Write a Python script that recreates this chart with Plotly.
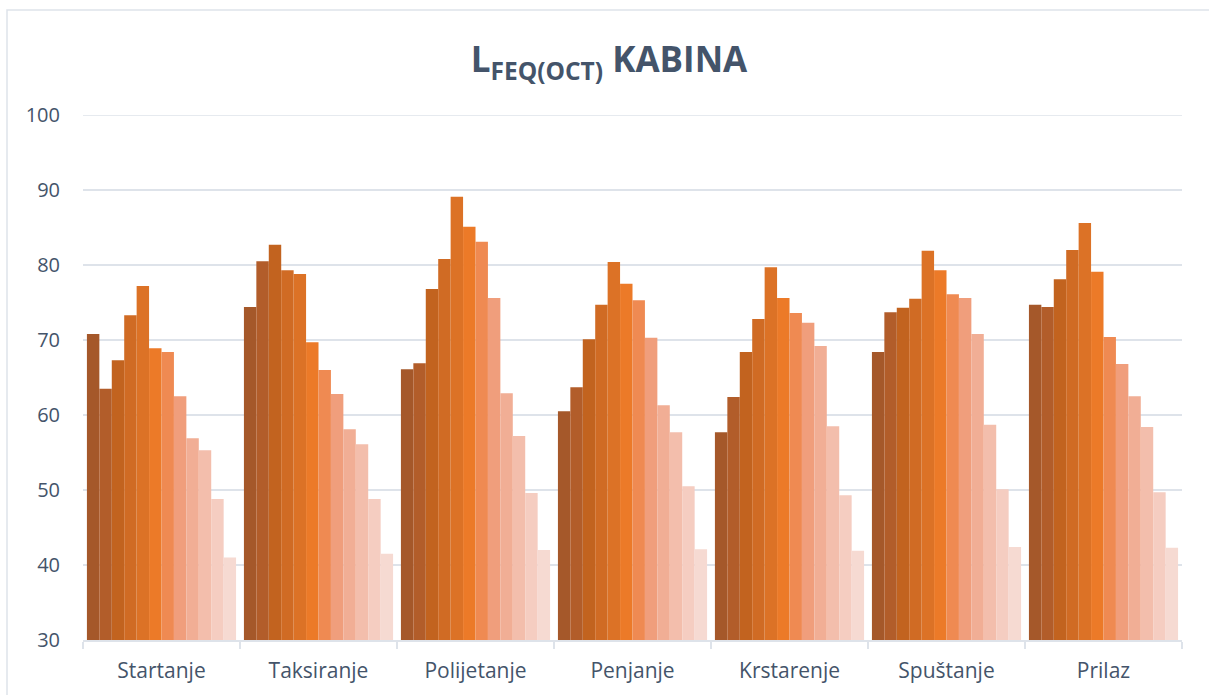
import plotly.graph_objects as go

categories = ["Startanje", "Taksiranje", "Polijetanje", "Penjanje", "Krstarenje", "Spuštanje", "Prilaz"]

# 12 octave-band series (one value per category)
band_01 = [70.8, 74.4, 66.1, 60.5, 57.7, 68.4, 74.7]
band_02 = [63.5, 80.5, 66.9, 63.7, 62.4, 73.7, 74.4]
band_03 = [67.3, 82.7, 76.8, 70.1, 68.4, 74.3, 78.1]
band_04 = [73.3, 79.3, 80.8, 74.7, 72.8, 75.5, 82.0]
band_05 = [77.2, 78.8, 89.1, 80.4, 79.7, 81.9, 85.6]
band_06 = [68.9, 69.7, 85.1, 77.5, 75.6, 79.3, 79.1]
band_07 = [68.4, 66.0, 83.1, 75.3, 73.6, 76.1, 70.4]
band_08 = [62.5, 62.8, 75.6, 70.3, 72.3, 75.6, 66.8]
band_09 = [56.9, 58.1, 62.9, 61.3, 69.2, 70.8, 62.5]
band_10 = [55.3, 56.1, 57.2, 57.7, 58.5, 58.7, 58.4]
band_11 = [48.8, 48.8, 49.6, 50.5, 49.3, 50.1, 49.7]
band_12 = [41.0, 41.5, 42.0, 42.1, 41.9, 42.4, 42.3]

y_ticks = [30, 40, 50, 60, 70, 80, 90, 100]

series = [band_01, band_02, band_03, band_04, band_05, band_06,
          band_07, band_08, band_09, band_10, band_11, band_12]
colors = ["#A5582A", "#B25D2A", "#C2631F", "#D06B24", "#DC7226", "#EC7A28",
          "#EF8A52", "#F09E7C", "#F1AE95", "#F3BEAC", "#F5CDC1", "#F6DAD2"]

fig = go.Figure()
for i, (vals, col) in enumerate(zip(series, colors)):
    fig.add_trace(go.Bar(x=categories, y=vals, name=f"{i+1}",
                         marker=dict(color=col, line=dict(width=0))))

font_col = "#44546A"
grid_col = "#DEE3EA"
fig.update_layout(
    width=1209, height=695,
    barmode="group", bargap=0.05, bargroupgap=0,
    showlegend=False,
    plot_bgcolor="white", paper_bgcolor="white",
    margin=dict(l=83, r=27, t=115, b=55),
    font=dict(family="Open Sans", color=font_col),
    title=dict(text="<b>L<sub>FEQ(OCT)</sub> KABINA</b>",
               x=609 / 1209, xanchor="center", xref="container",
               y=1 - 60 / 695, yref="container", yanchor="middle",
               font=dict(size=35, color=font_col, family="Open Sans")),
    yaxis=dict(range=[y_ticks[0], y_ticks[-1]], tickvals=y_ticks,
               showgrid=True, gridcolor=grid_col,
               gridwidth=1.5, zeroline=False, showline=False,
               tickfont=dict(size=20, color=font_col), ticklabelstandoff=22),
    xaxis=dict(showline=True, linecolor=grid_col, linewidth=1.5,
               ticks="outside", tickson="boundaries", ticklen=7,
               tickcolor=grid_col, tickwidth=1.5,
               tickfont=dict(size=21, color=font_col), ticklabelstandoff=11),
)

# top gridline (plotly hides gridlines lying on the range edge)
fig.add_shape(type="line", xref="paper", yref="y", x0=0, x1=1,
              y0=y_ticks[-1], y1=y_ticks[-1],
              line=dict(color=grid_col, width=1.5), layer="below")

# outer chart border (Excel style)
pw = 1209 - 83 - 27
ph = 695 - 115 - 55
fig.add_shape(type="rect", xref="paper", yref="paper",
              x0=(7 - 83) / pw, x1=(1215 - 83) / pw,
              y0=(640 - 700) / ph, y1=(640 - 10) / ph,
              line=dict(color=grid_col, width=1.5), fillcolor="rgba(0,0,0,0)",
              layer="below")

fig.write_html("out.html", config={"displayModeBar": False},
               post_script="document.body.style.margin='0';document.body.style.overflow='hidden';")
